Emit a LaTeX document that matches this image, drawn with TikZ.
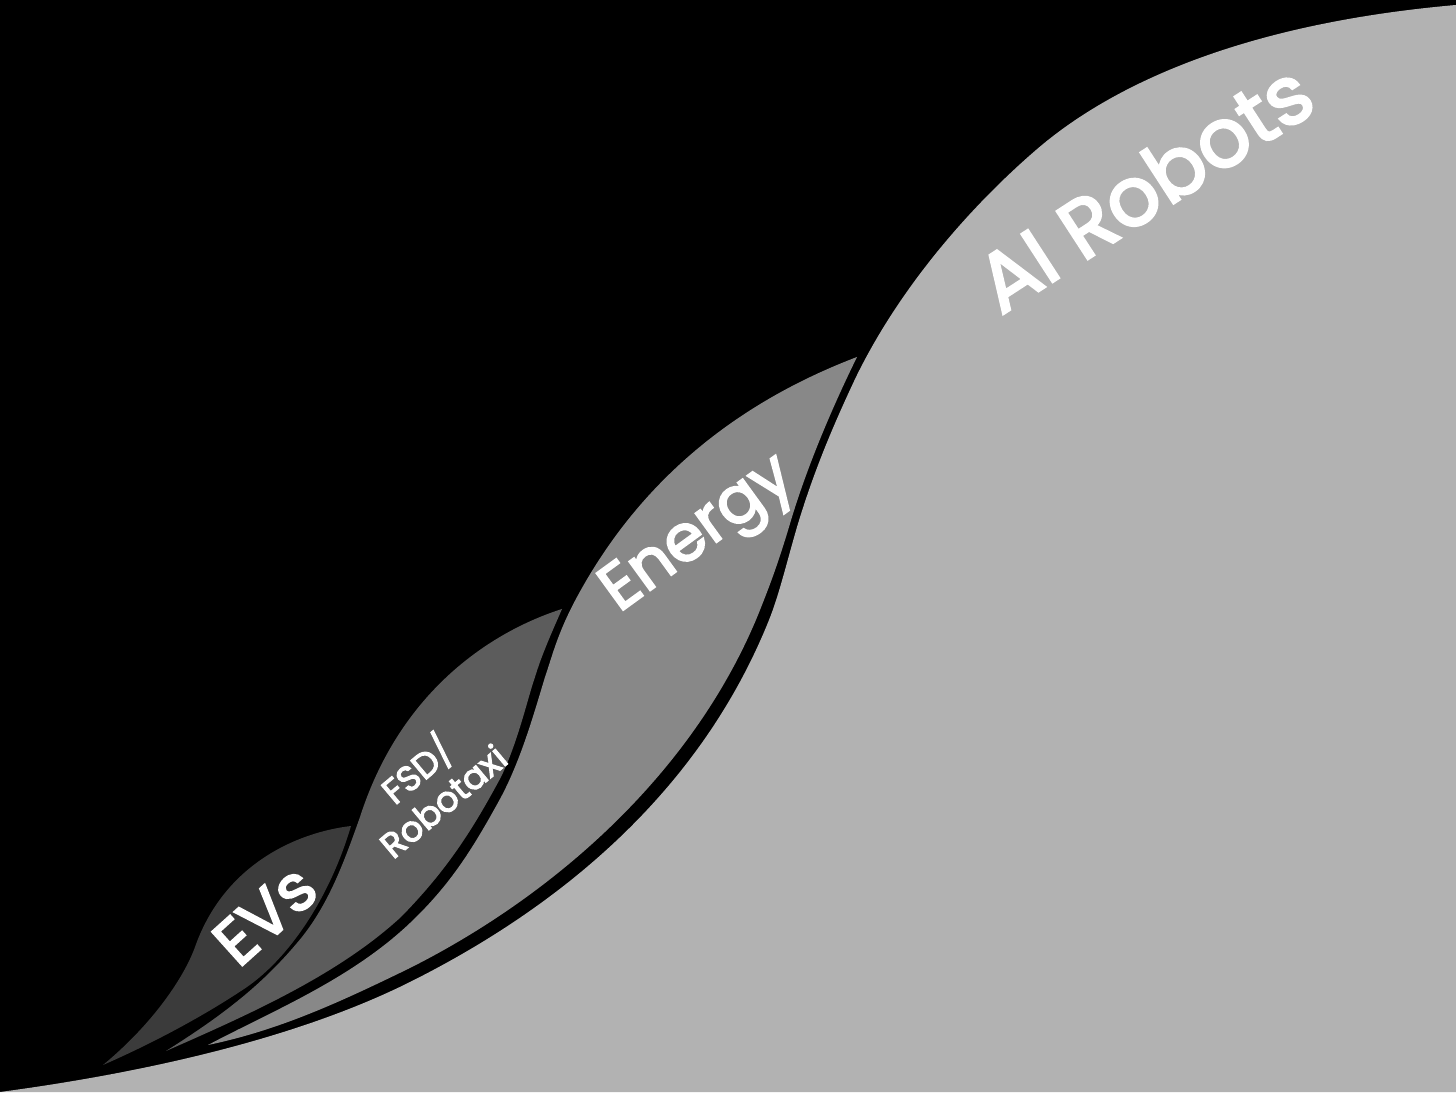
\documentclass[tikz,border=0pt]{standalone}
\usepackage{fontspec}
\setmainfont{Poppins}[BoldFont=*,BoldFeatures={FakeBold=3}]
\definecolor{robotgray}{HTML}{B2B2B2}
\definecolor{energygray}{HTML}{888888}
\definecolor{fsdgray}{HTML}{5C5C5C}
\definecolor{evgray}{HTML}{3B3B3B}
\tikzset{
  curvelabel/.style={text=white, inner sep=0pt, align=center}
}
\begin{document}
\begin{tikzpicture}
    \useasboundingbox (0,0) rectangle (14.56,10.92);
    \fill[black] (0,0) rectangle (14.56,10.92);

    % AI robots shade
    \fill[robotgray] (0,0) .. controls (1.5,0.2) and (3.0,0.55) .. (4.1,1.10)
    .. controls (5.6,1.85) and (7.0,3.0) .. (7.69,4.72)
    .. controls (7.79,4.97) and (7.86,5.27) .. (7.97,5.65)
    .. controls (8.12,6.15) and (8.3,6.6) .. (8.56,7.15)
    .. controls (9.0,8.05) and (9.7,8.85) .. (10.36,9.42)
    .. controls (11.1,10.06) and (12.4,10.68) .. (14.56,10.87)
    -- (14.56,0) -- cycle;

    % energy shade
    \fill[energygray] (2.08,0.47) .. controls (2.8,0.62) and (3.4,0.9) .. (4.08,1.23)
    .. controls (5.48,1.93) and (6.91,3.14) .. (7.58,4.77)
    .. controls (7.68,5.02) and (7.77,5.25) .. (7.89,5.65)
    .. controls (8.05,6.2) and (8.3,6.8) .. (8.57,7.35)
    .. controls (7.6,6.98) and (6.5,6.3) .. (5.77,4.95)
    .. controls (5.57,4.58) and (5.52,4.35) .. (5.45,4.15)
    .. controls (5.33,3.75) and (5.2,3.3) .. (5.0,2.93)
    .. controls (4.72,2.42) and (4.5,2.07) .. (4.1,1.69)
    .. controls (3.5,1.12) and (2.7,0.8) .. (2.08,0.47) -- cycle;

    % fsd shade
    \fill[fsdgray] (1.66,0.41) .. controls (2.5,0.78) and (3.38,1.17) .. (4.01,1.75)
    .. controls (4.48,2.23) and (4.73,2.63) .. (5.01,3.15)
    .. controls (5.18,3.5) and (5.28,3.95) .. (5.35,4.15)
    .. controls (5.42,4.38) and (5.52,4.6) .. (5.62,4.83)
    .. controls (4.9,4.6) and (4.0,4.0) .. (3.6,2.75)
    .. controls (3.44,2.3) and (3.28,1.85) .. (2.97,1.49)
    .. controls (2.6,1.05) and (2.2,0.75) .. (1.66,0.41) -- cycle;

    % ev shade
    \fill[evgray] (1.03,0.27) .. controls (1.6,0.52) and (2.1,0.8) .. (2.47,1.05)
    .. controls (2.9,1.35) and (3.3,1.95) .. (3.51,2.66)
    .. controls (3.0,2.6) and (2.25,2.3) .. (1.95,1.45)
    .. controls (1.85,1.17) and (1.55,0.7) .. (1.03,0.27) -- cycle;

    % labels
    \node[curvelabel, rotate=33, font=\bfseries\fontsize{23.3}{28}\selectfont] (robots) at (11.44,9.05) {AI Robots};
    \node[curvelabel, rotate=36, font=\bfseries\fontsize{18.5}{22}\selectfont] (energy) at (7.0,5.55) {Energy};
    \node[curvelabel, rotate=40, font=\bfseries\fontsize{10}{11.5}\selectfont] (fsd) at (4.28,3.09) {FSD/\\Robotaxi};
    \node[curvelabel, rotate=42, font=\bfseries\fontsize{18.5}{22}\selectfont] (evs) at (2.65,1.77) {EVs};
\end{tikzpicture}
\end{document}
